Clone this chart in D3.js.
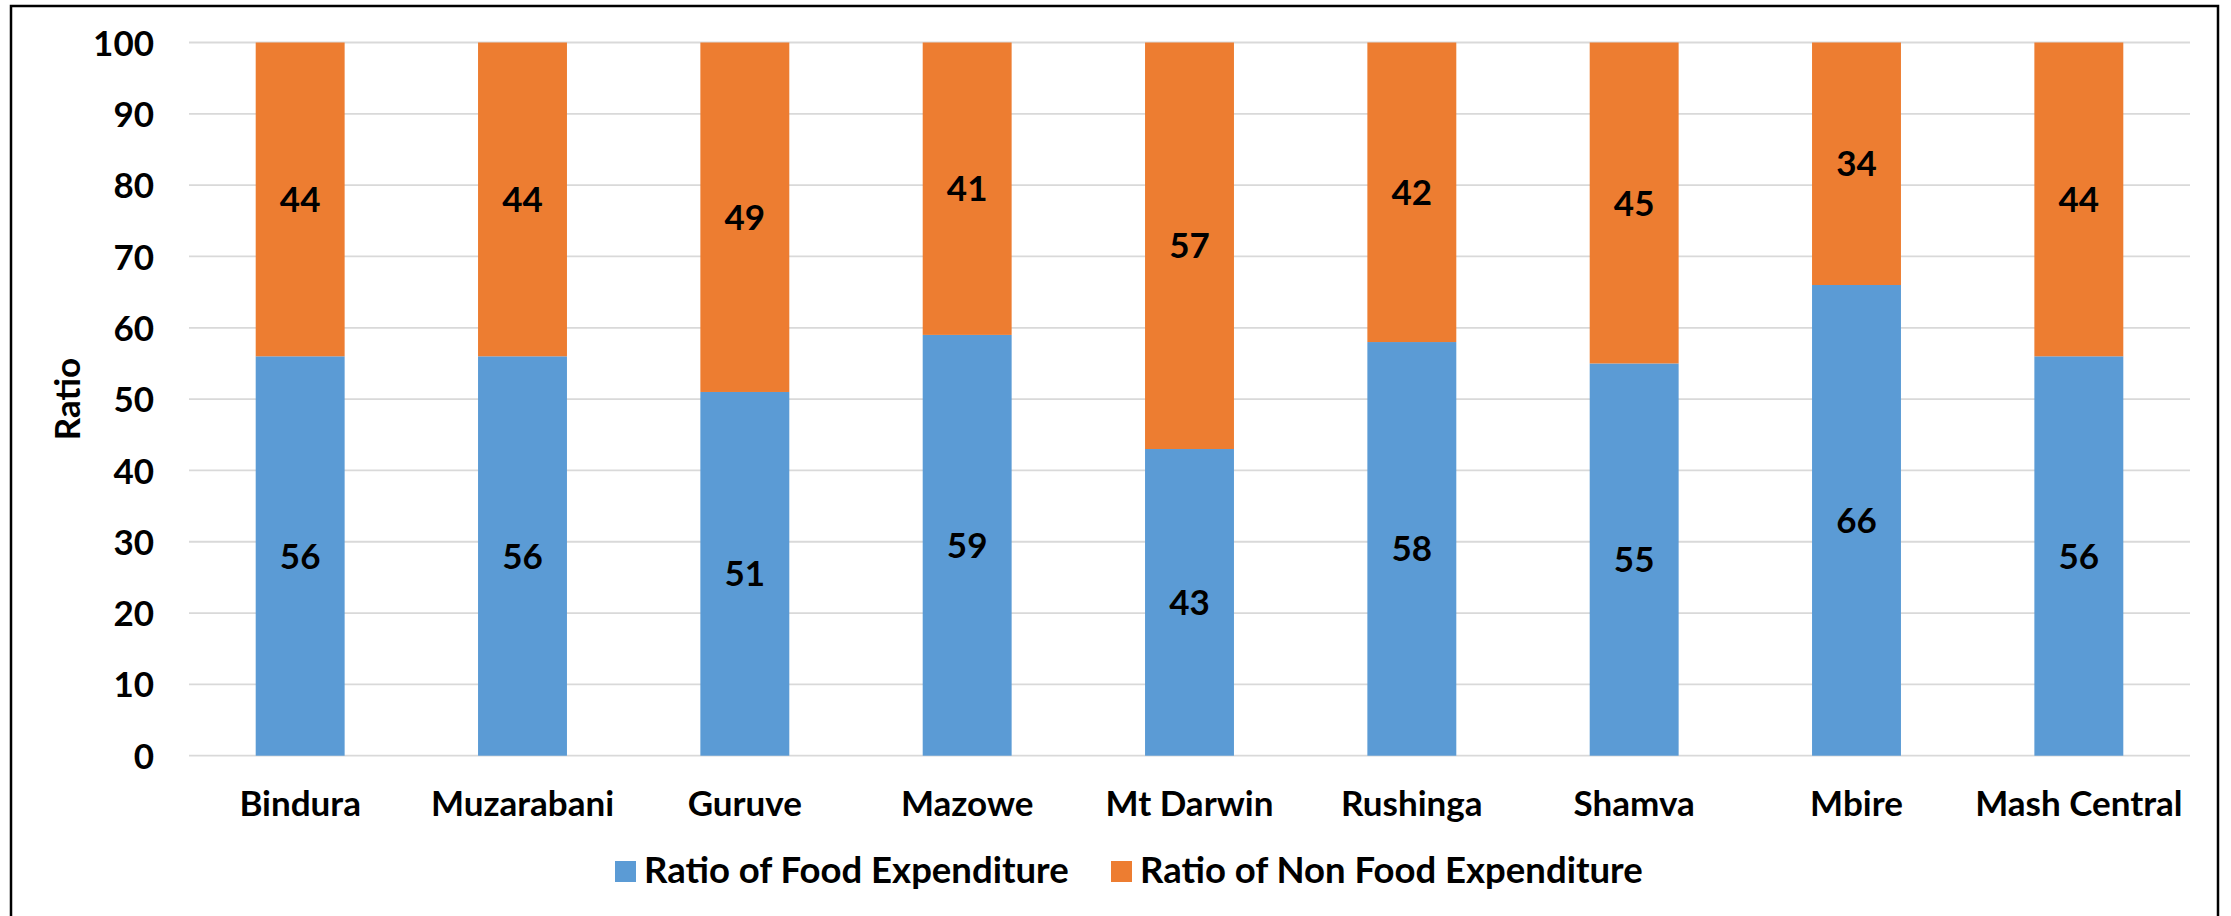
<!DOCTYPE html>
<html>
<head>
<meta charset="utf-8">
<script src="https://cdn.jsdelivr.net/npm/d3@7"></script>
<style>
  html, body { margin: 0; padding: 0; background: #ffffff; }
  svg { display: block; }
  text { font-family: Lato, "Open Sans", sans-serif; font-weight: bold; fill: #000; }
</style>
</head>
<body>
<svg id="chart" width="2231" height="916"></svg>
<script>
// Districts along the x axis
const districts = ["Bindura", "Muzarabani", "Guruve", "Mazowe", "Mt Darwin", "Rushinga", "Shamva", "Mbire", "Mash Central"];
// Share of household spending (percent)
const foodRatio    = [56, 56, 51, 59, 43, 58, 55, 66, 56];
const nonFoodRatio = [44, 44, 49, 41, 57, 42, 45, 34, 44];
const seriesNames  = ["Ratio of Food Expenditure", "Ratio of Non Food Expenditure"];
const seriesColors = ["#5B9BD5", "#ED7D31"];
const yTicks = [0, 10, 20, 30, 40, 50, 60, 70, 80, 90, 100];
const yTitle = "Ratio";

const svg = d3.select("#chart");
const W = 2231, H = 916;
const plot = { left: 189, right: 2190, top: 42.5, bottom: 755.7 };
const fontSize = 35;

svg.append("rect").attr("width", W).attr("height", H).attr("fill", "#fff");

// Frame around the chart area (open at the bottom edge)
svg.append("path")
  .attr("d", `M11,${H + 5}V6H2218V${H + 5}`)
  .attr("fill", "none").attr("stroke", "#000").attr("stroke-width", 2.5);

const x = d3.scaleBand().domain(districts).range([plot.left, plot.right]).paddingInner(0).paddingOuter(0);
const y = d3.scaleLinear().domain([0, 100]).range([plot.bottom, plot.top]);
const barW = x.bandwidth() * 0.4;

// Horizontal gridlines
svg.append("g").selectAll("line").data(yTicks).join("line")
  .attr("x1", plot.left).attr("x2", plot.right)
  .attr("y1", d => y(d)).attr("y2", d => y(d))
  .attr("stroke", "#d9d9d9").attr("stroke-width", 1.8);

// Y axis labels
const yAxis = d3.axisLeft(y).tickValues(yTicks).tickSize(0).tickPadding(0);
const gy = svg.append("g").attr("transform", "translate(154,0)").call(yAxis);
gy.select(".domain").remove();
gy.selectAll("text")
  .attr("font-family", "Lato, 'Open Sans', sans-serif")
  .attr("font-weight", "bold").attr("font-size", fontSize).attr("fill", "#000")
  .attr("dy", "0.36em");

// Stacked data
const rows = districts.map((d, i) => ({ district: d, food: foodRatio[i], nonfood: nonFoodRatio[i] }));
const stack = d3.stack().keys(["food", "nonfood"])(rows);

const layers = svg.append("g").selectAll("g").data(stack).join("g")
  .attr("fill", (d, i) => seriesColors[i]);

layers.selectAll("rect").data(d => d).join("rect")
  .attr("x", d => x(d.data.district) + x.bandwidth() / 2 - barW / 2)
  .attr("width", barW)
  .attr("y", d => y(d[1]))
  .attr("height", d => y(d[0]) - y(d[1]));

// Value labels centred in each segment
const labels = svg.append("g").selectAll("g").data(stack).join("g");
labels.selectAll("text").data(d => d.map(v => ({ v, key: d.key }))).join("text")
  .attr("x", d => x(d.v.data.district) + x.bandwidth() / 2)
  .attr("y", d => y((d.v[0] + d.v[1]) / 2))
  .attr("dy", "0.36em")
  .attr("text-anchor", "middle")
  .attr("font-size", fontSize)
  .text(d => d.v.data[d.key]);

// Category labels
svg.append("g").selectAll("text").data(districts).join("text")
  .attr("x", d => x(d) + x.bandwidth() / 2)
  .attr("y", 816)
  .attr("text-anchor", "middle")
  .attr("font-size", fontSize)
  .text(d => d);

// Y axis title
svg.append("text")
  .attr("transform", `translate(80,${(plot.top + plot.bottom) / 2}) rotate(-90)`)
  .attr("text-anchor", "middle")
  .attr("font-size", fontSize)
  .text(yTitle);

// Legend entries
const legendX = [615, 1111];
const lg = svg.append("g").selectAll("g").data(seriesNames).join("g")
  .attr("transform", (d, i) => `translate(${legendX[i]},0)`);
lg.append("rect").attr("x", 0).attr("y", 861).attr("width", 21).attr("height", 21)
  .attr("fill", (d, i) => seriesColors[i]);
lg.append("text").attr("x", 29).attr("y", 883).attr("font-size", 36.5).text(d => d);
</script>
</body>
</html>
